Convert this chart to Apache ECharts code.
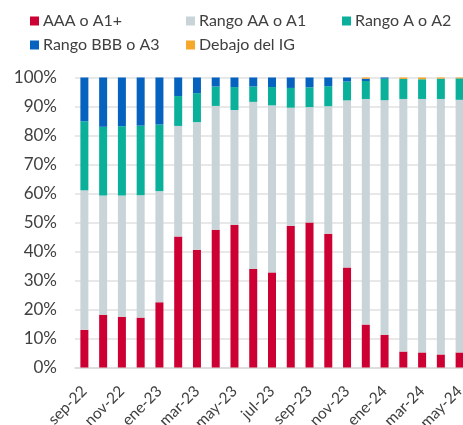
<!DOCTYPE html>
<html><head><meta charset="utf-8">
<script src="https://cdn.jsdelivr.net/npm/echarts@6/dist/echarts.min.js"></script>
<style>html,body{margin:0;padding:0;background:#fff}#c{width:463px;height:425px}</style>
</head><body><div id="c"></div>
<script>
const categories = ['sep-22','oct-22','nov-22','dic-22','ene-23','feb-23','mar-23','abr-23','may-23','jun-23','jul-23','ago-23','sep-23','oct-23','nov-23','dic-23','ene-24','feb-24','mar-24','abr-24','may-24'];
const aaa = [13.0,18.2,17.5,17.2,22.5,45.2,40.6,47.5,49.2,34.0,32.8,48.9,50.0,46.1,34.5,14.8,11.3,5.5,5.2,4.5,5.2];
const aa  = [48.1,41.1,41.8,42.2,38.3,38.1,44.0,42.7,39.6,57.6,57.6,40.7,39.8,44.0,57.6,77.8,80.9,87.1,87.4,88.1,87.1];
const a   = [23.8,23.7,23.9,24.0,23.0,10.3,10.0,6.7,7.9,5.3,6.3,6.8,6.8,6.9,6.5,6.2,7.4,6.9,6.8,7.0,7.4];
const bbb = [15.1,17.0,16.8,16.6,16.2,6.4,5.4,3.1,3.3,3.1,3.3,3.6,3.4,3.0,1.4,0.8,0.4,0,0,0,0];
const ig  = [0,0,0,0,0,0,0,0,0,0,0,0,0,0,0,0.4,0,0.5,0.6,0.4,0.3];
const seriesNames = ['AAA o A1+','Rango AA o A1','Rango A o A2','Rango BBB o A3','Debajo del IG'];
const colors = ['#CC0033','#C8D4D8','#0AB09A','#0563BF','#F7A72A'];
const values = [aaa, aa, a, bbb, ig];

const font = 'Lato, "Noto Sans", sans-serif';
const txt = '#404040';
const legendPos = [[30,13],[186,13],[342,13],[30,37],[186,37]];
const chart = echarts.init(document.getElementById('c'), null, {renderer:'canvas'});
chart.setOption({
  animation:false,
  color: colors,
  legend: seriesNames.map((n,i)=>({
    data:[n], left:legendPos[i][0], top:legendPos[i][1], padding:0,
    icon:'rect', itemWidth:9, itemHeight:9,
    textStyle:{fontFamily:font, fontSize:16, color:txt, padding:[0,0,0,-1]}
  })),
  grid:{left:75, top:77.5, width:394, height:290, containLabel:false, outerBoundsMode:'none'},
  xAxis:{type:'category', data:categories,
    axisLine:{lineStyle:{color:'#D9D9D9', width:1.5}}, axisTick:{show:false},
    axisLabel:{interval:1, rotate:45, fontFamily:font, fontSize:15.5, color:txt, margin:21}},
  yAxis:{type:'value', min:0, max:100, interval:10,
    axisLabel:{formatter:'{value}%', fontFamily:font, fontSize:17, color:txt, margin:18},
    splitLine:{lineStyle:{color:'#E0E0E0', width:1.5}}, axisLine:{show:false}, axisTick:{show:false}},
  series: seriesNames.map((n,i)=>({
    name:n, type:'bar', stack:'t', barWidth:8, data:values[i],
    itemStyle:{color:colors[i]}
  }))
});
</script></body></html>
